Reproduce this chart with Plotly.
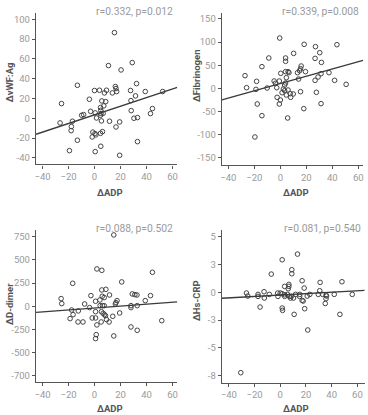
import plotly.graph_objects as go

# ---------------- data ----------------
vwf_adp = [15.3, 10.7, 29, 20.4, -13.2, 32.3, 16, 16.5, 0, 3.8, 9.2, 27.7, 39, 52.4, 7.6, 13.7, 17,
           -4, 31.5, -25.4, 5.6, 8.6, 28, 7.1, 4.6, 4.8, -3, 28.2, 44.5, -8.4, -9.9, 0.5, 5, 6.6, 43,
           4.6, 1.5, 30.3, 33, -26.5, -17, 5.3, 11.5, 19.3, -17.8, 16.5, -18, 6.1, -1.3, 0.3, 1, 4.6,
           -1.8, -13.2, 33, 4.8, -19.3, 0.5, 19.3]
vwf_val = [86.5, 53.2, 56.2, 48.8, 33.3, 35, 32, 30, 28, 28.3, 28.3, 28, 27, 27, 25.6, 25.6, 27,
           19.2, 22.6, 14.8, 17.5, 16.8, 17.8, 12.5, 10.8, 8, 7, 7.7, 9.8, 3.7, 3, 5.4, 4.7, 5, 4.7,
           3, 0.3, 0, 0.7, -4.7, -3, -2.7, -3, -3.7, -8.4, -8.8, -12.5, -13.5, -14, -15.5, -16.8, -15.2,
           -18.9, -22.2, -23.6, -28.3, -32.7, -33.7, -37.4]

fib_adp = [-0.5, 18.3, 43.5, 27, 10.2, 30.3, -8.9, 4, 26.7, 4, 31.6, -14.2, 16, 15.5, 14.8, 19.3,
           37.4, 4, 5.9, 6.6, 13.2, 0.3, 31.3, 29, -27.2, 4.6, 14, 26.7, 41.7, -18.3, -4.8, -0.8,
           -3.8, 4, 50.6, 3.3, -26, -10.2, -2.8, -18.8, 2.3, 5.9, 3.3, 15.5, 27.7, 1.3, 7.6, 9.9, 4.6,
           -2.5, 7.9, 0, -17.8, -0.8, 31.3, 18, -14.2, 5.6, -19.6]
fib_val = [108.6, 95, 94.2, 90, 75.5, 77, 65.5, 65.5, 64.7, 58.3, 56, 46.8, 48.2, 42.4, 38, 36,
           33.8, 36, 36, 33.8, 33.8, 32.4, 31.7, 24.5, 27.3, 23, 20.1, 17.3, 17.3, 15.1, 15.8, 15.8,
           10.8, 11.5, 8.6, 7.2, 1.4, 0.7, 1.4, -2.2, -1.4, -3.6, -5, -7.2, -8.6, -9.4, -11.5, -12.2,
           -14.4, -19.4, -19.4, -25.2, -33.8, -33.8, -33.1, -43.9, -59, -64, -105]

dd_adp = [14.8, 1.8, 5.6, 44.5, 20.9, -16.8, 5.6, 8.7, 29, 31, 32.6, -2.8, 11.5, 43, 5.9, 7.4, 4.1,
          0.8, 17.3, 39, -25.7, 16.5, 16, -25.2, -7.6, 4.3, 6.1, 7.4, 28, 32.8, -3.8, 28, -17.6, 5.3,
          -12.5, 0.8, 19.3, -16.5, 6.6, 7.6, 8.4, 14, -1.8, 0.8, -18.8, 9.2, 11.2, -12.7, -8.9, 5.1,
          51.7, 1.8, 28, 32.8, 14.8, 1.3, 0.8]
dd_val = [770, 403, 388, 367, 263, 248, 176, 183, 133, 126, 122, 115, 122, 115, 108, 94, 68, 54, 61,
          61, 83, 40, 25, 29, 25, 7, 7, 7, 7, 7, -14, -14, -40, -58, -50, -58, -72, -90, -76, -90,
          -101, -108, -126, -126, -133, -144, -169, -169, -169, -169, -155, -201, -223, -259, -320,
          -306, -349]

crp_adp = [13.4, 1.5, 9, 9, -7, 17, 31, 48, 6.7, 6.7, 3.4, 18.6, 6.2, -12.6, 30.7, -26.3, -2, 0,
           1.5, -17.3, -8.5, 3.4, 5.7, 11.9, 15.2, 23, 29.6, 33, 35.6, 42, 56, -25.3, -17.3, -1.8,
           3.4, 7, 8.5, 15, 21, 36, -12.4, 8, 10.3, 17, 35.6, 17.8, 35, -15.7, 1.5, 1.8, 19, 10.8,
           46.4, 21.4, -30.7]
crp_val = [3.45, 2.94, 2.04, 1.68, 1.65, 1.05, 0.9, 0.96, 0.72, 0.54, 0.54, 0.39, 0.33, 0.06, 0.15,
           -0.06, -0.06, -0.06, -0.12, -0.18, -0.18, -0.21, -0.18, -0.18, -0.18, -0.18, -0.18, -0.18,
           -0.24, -0.18, -0.18, -0.33, -0.36, -0.36, -0.36, -0.36, -0.36, -0.36, -0.33, -0.33, -0.51,
           -0.51, -0.51, -0.72, -0.57, -0.78, -1.0, -1.32, -1.41, -1.62, -1.47, -1.98, -1.98, -3.39,
           -7.24]

# regression lines (slope, intercept)
fit_slope = [0.4374, 0.788, 1.027, 0.0064]
fit_intercept = [3.48, 10.3, -18.5, -0.24]

stats_text = ["r=0.332, p=0.012", "r=0.339, p=0.008", "r=0.088, p=0.502", "r=0.081, p=0.540"]
y_titles = ["ΔvWF:Ag", "ΔFibrinogen", "ΔD-dimer", "ΔHs-CRP"]
x_title = "ΔADP"

x_tickvals = [-40, -20, 0, 20, 40, 60]
y_tickvals = [[-40, -20, 0, 20, 40, 60, 80, 100],
              [-150, -100, -50, 0, 50, 100, 150],
              [-750, -500, -250, 0, 250, 500, 750],
              [-7.5, -5, -2.5, 0, 2.5, 5]]
y_ticktext = [["-40", "-20", "0", "20", "40", "60", "80", "100"],
              ["-150", "-100", "-50", "0", "50", "100", "150"],
              ["-700", "-500", "-250", "0", "250", "500", "750"],
              ["-8", "-5", "-3", "0", "3", "5"]]

# ---------------- layout geometry ----------------
W, H = 368, 415
xs = [vwf_adp, fib_adp, dd_adp, crp_adp]
ys = [vwf_val, fib_val, dd_val, crp_val]
x_ranges = [[-45, 63.6], [-45, 63.6], [-45, 63.6], [-45.4, 65.7]]
y_ranges = [[-46.5, 106], [-165.5, 162], [-817, 820], [-8.14, 5.65]]
# plot boxes in pixels: (left, right, top, bottom)
boxes = [(34.3, 176.7, 13.3, 164.3),
         (221.7, 364.0, 13.3, 165.0),
         (34.3, 176.7, 230.3, 382.0),
         (221.7, 365.7, 229.7, 382.7)]
xtitle_pos = [(108.5, 192.7), (296.5, 192.7), (108.5, 408.3), (296.5, 408.3)]
ytitle_pos = [(7.3, 82), (195.7, 76), (7.3, 303.7), (195.7, 301)]

AX = "#555555"
TK = "#9a9a9a"
MK = "#444444"
FONT = "Roboto"

fig = go.Figure()
for i in range(4):
    xa = "x" if i == 0 else f"x{i+1}"
    ya = "y" if i == 0 else f"y{i+1}"
    fig.add_trace(go.Scatter(
        x=xs[i], y=ys[i], mode="markers", xaxis=xa, yaxis=ya,
        marker=dict(symbol="circle-open", size=4.6, color=MK, line=dict(width=1, color=MK)),
        showlegend=False, hoverinfo="skip"))
    x0, x1 = x_ranges[i]
    fig.add_trace(go.Scatter(
        x=[x0, x1], y=[fit_slope[i] * x0 + fit_intercept[i], fit_slope[i] * x1 + fit_intercept[i]],
        mode="lines", xaxis=xa, yaxis=ya, line=dict(color="#3a3a3a", width=1.3),
        showlegend=False, hoverinfo="skip"))

layout = dict(width=W, height=H, margin=dict(l=0, r=0, t=0, b=0),
              paper_bgcolor="white", plot_bgcolor="white",
              font=dict(family=FONT, size=9, color=TK))
annotations = []
for i in range(4):
    l, r, t, b = boxes[i]
    xk = "xaxis" if i == 0 else f"xaxis{i+1}"
    yk = "yaxis" if i == 0 else f"yaxis{i+1}"
    xa = "x" if i == 0 else f"x{i+1}"
    ya = "y" if i == 0 else f"y{i+1}"
    layout[xk] = dict(domain=[l / W, r / W], range=x_ranges[i], anchor=ya,
                      showline=True, linecolor=AX, linewidth=1.4, showgrid=False, zeroline=False,
                      ticks="outside", ticklen=3, tickwidth=1, tickcolor=AX,
                      tickvals=x_tickvals, tickfont=dict(family=FONT, size=9.5, color=TK))
    layout[yk] = dict(domain=[1 - b / H, 1 - t / H], range=y_ranges[i], anchor=xa,
                      showline=True, linecolor=AX, linewidth=1.4, showgrid=False, zeroline=False,
                      ticks="outside", ticklen=3, tickwidth=1, tickcolor=AX,
                      tickvals=y_tickvals[i], ticktext=y_ticktext[i],
                      tickfont=dict(family=FONT, size=9.5, color=TK))
    # stats text
    annotations.append(dict(text=stats_text[i], xref="paper", yref="paper",
                            x=(r - 2) / W, y=1 - (t - 1.5) / H, xanchor="right", yanchor="middle",
                            showarrow=False, font=dict(family=FONT, size=10.3, color=TK)))
    # x title
    xtx, xty = xtitle_pos[i]
    annotations.append(dict(text="<b>" + x_title + "</b>", xref="paper", yref="paper",
                            x=xtx / W, y=1 - xty / H,
                            xanchor="center", yanchor="middle", showarrow=False,
                            font=dict(family=FONT, size=9.5, color=AX)))
    # y title
    ytx, yty = ytitle_pos[i]
    annotations.append(dict(text="<b>" + y_titles[i] + "</b>", xref="paper", yref="paper",
                            x=ytx / W, y=1 - yty / H, xanchor="center", yanchor="middle",
                            textangle=-90, showarrow=False,
                            font=dict(family=FONT, size=9.5, color=AX)))
layout["annotations"] = annotations
fig.update_layout(**layout)
fig.write_html("out.html")
